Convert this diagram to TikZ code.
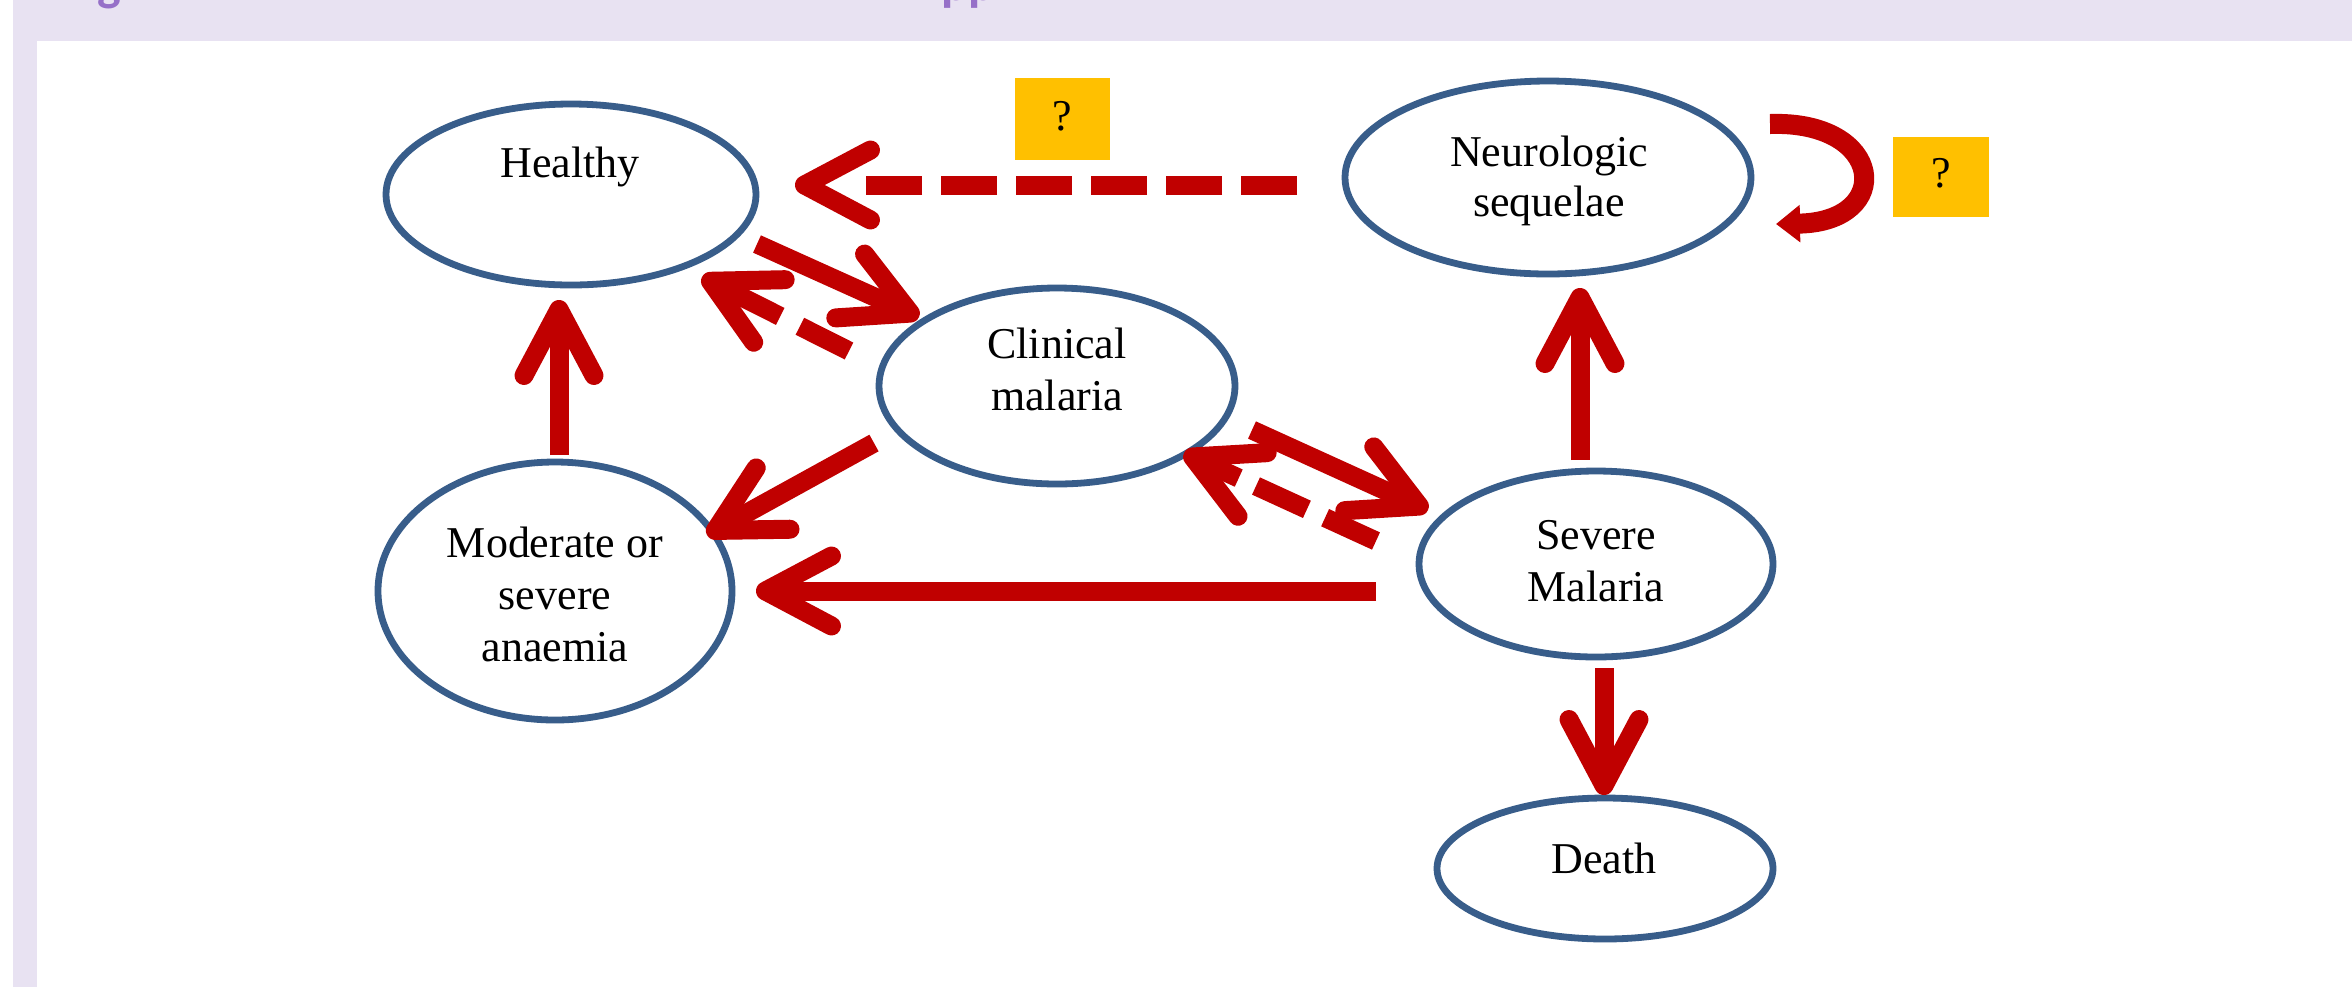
\documentclass[tikz,border=0pt]{standalone}
\usepackage{fontspec}
\setmainfont{Liberation Serif}
\newfontfamily\titlefont{Carlito}
\usetikzlibrary{arrows.meta,shapes.geometric}
\definecolor{edgeblue}{HTML}{385D8A}
\definecolor{arrred}{HTML}{C00000}
\definecolor{qyellow}{HTML}{FFC000}
\definecolor{bandlav}{HTML}{E8E2F2}
\definecolor{titlepurple}{HTML}{9670C8}
\begin{document}
\begin{tikzpicture}[x=0.5pt,y=-0.5pt,
  state/.style={ellipse, draw=edgeblue, line width=3.4pt, inner sep=0pt},
  lbl/.style={font=\fontsize{22}{26}\selectfont, inner sep=0pt, anchor=base},
  qbox/.style={rectangle, fill=qyellow, inner sep=0pt},
  titlefrag/.style={font=\titlefont\bfseries\fontsize{25}{30}\selectfont, text=titlepurple, inner sep=0pt},
  arr/.style={draw=arrred, line width=9.5pt, -{Straight Barb[length=33pt, width=35pt, round]}},
  loopArr/.style={draw=arrred, line width=10pt, -{Triangle[length=12pt, width=18pt]}},
  dashA/.style={dash pattern=on 28pt off 9.5pt on 28pt off 9.5pt on 28pt off 9.5pt on 28pt off 9.5pt on 28pt off 9.5pt on 28pt off 300pt},
  dashB/.style={dash pattern=on 27.5pt off 11pt on 200pt off 1pt},
  dashC/.style={dash pattern=on 28pt off 10pt on 28pt off 9.5pt on 200pt off 1pt}
]
\useasboundingbox (0,0) rectangle (2352,987);
% background and frame
\fill[white] (0,0) rectangle (2352,987);
\fill[bandlav] (13,0) rectangle (2352,41);
\fill[bandlav] (13,41) rectangle (37,987);
\node[titlefrag, anchor=base] (tg) at (109,0) {g};
\node[titlefrag, anchor=base west] (tpp) at (941,0) {pp};

% states
\node[state, minimum width=185pt, minimum height=90.5pt] (h)  at (571,194.5) {};
\node[state, minimum width=178pt, minimum height=98pt]   (cm) at (1057,386) {};
\node[state, minimum width=177pt, minimum height=129pt]  (an) at (555,591) {};
\node[state, minimum width=177pt, minimum height=93pt]   (sm) at (1596,564) {};
\node[state, minimum width=203pt, minimum height=96.5pt] (ns) at (1548,177.5) {};
\node[state, minimum width=168pt, minimum height=70.5pt] (de) at (1605,868.5) {};

% labels
\node[lbl] (th)  at (570,177) {Healthy};
\node[lbl] (tc1) at (1057,358) {Clinical};
\node[lbl] (tc2) at (1057,410) {malaria};
\node[lbl] (ta1) at (555,557) {Moderate or};
\node[lbl] (ta2) at (555,609) {severe};
\node[lbl] (ta3) at (555,661) {anaemia};
\node[lbl] (ts1) at (1596,549) {Severe};
\node[lbl] (ts2) at (1596,601) {Malaria};
\node[lbl] (tn1) at (1549,166) {Neurologic};
\node[lbl] (tn2) at (1549,216) {sequelae};
\node[lbl] (td)  at (1604,873) {Death};

% question boxes
\node[qbox, minimum width=47.5pt, minimum height=41pt] (q1) at (1062.5,119) {};
\node[lbl] (q1t) at (1062.5,130) {?};
\node[qbox, minimum width=48pt, minimum height=40pt] (q2) at (1941,177) {};
\node[lbl] (q2t) at (1941,187) {?};

% connectors
\draw[arr, dashA] ([shift={(-251,7.5)}]ns.center) -- ([shift={(224,-9.5)}]h.center);
\draw[arr] ([shift={(186,49.5)}]h.center) -- ([shift={(-138,-69)}]cm.center);
\draw[arr, dashB] ([shift={(-208,-35)}]cm.center) -- ([shift={(131,82.5)}]h.center);
\draw[arr] ([shift={(195,44)}]cm.center) -- ([shift={(-168,-54)}]sm.center);
\draw[arr, dashC] ([shift={(-220,-23)}]sm.center) -- ([shift={(127,67)}]cm.center);
\draw[arr] ([shift={(-183,57)}]cm.center) -- ([shift={(152,-56)}]an.center);
\draw[arr] ([shift={(4,-136)}]an.center) -- ([shift={(-12,105.5)}]h.center);
\draw[arr] ([shift={(-220,27)}]sm.center) -- ([shift={(201,0)}]an.center);
\draw[arr] ([shift={(-16,-104)}]sm.center) -- ([shift={(32,110.5)}]ns.center);
\draw[arr] ([shift={(8,104)}]sm.center) -- ([shift={(-1,-73.5)}]de.center);
\draw[loopArr] ([shift={(222,-53.5)}]ns.center) .. controls ([shift={(337,-57.5)}]ns.center) and ([shift={(347,44.5)}]ns.center) .. ([shift={(228,46.5)}]ns.center);
\end{tikzpicture}
\end{document}
